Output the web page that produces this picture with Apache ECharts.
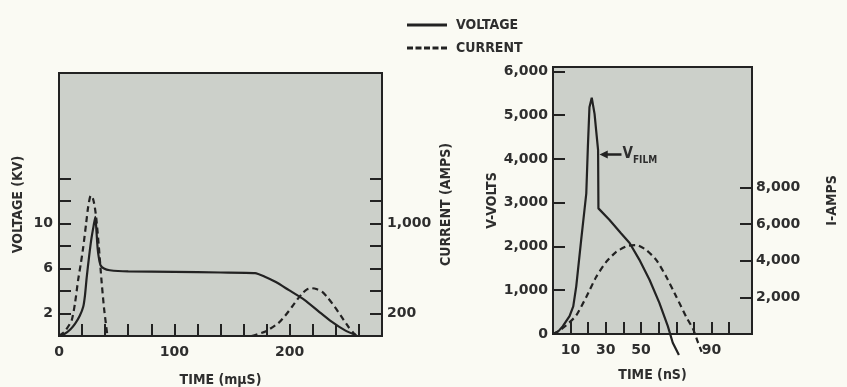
<!DOCTYPE html>
<html>
<head>
<meta charset="utf-8">
<style>
  html, body { margin: 0; padding: 0; background: #fafaf3; }
  #container { width: 847px; height: 387px; }
</style>
<script src="https://cdn.jsdelivr.net/npm/echarts@6/dist/echarts.min.js"></script>
</head>
<body>
<div id="container"></div>
<script>
// left panel: time in mμS, voltage in kV, current in amps
var leftVoltTime = [0, 5, 10, 14, 18, 21, 22.5, 24, 26, 28, 30, 31.5, 32.5, 33.5, 34.5, 36, 39, 44, 60, 100, 140, 170, 178, 188, 199, 213, 225, 236, 248, 257];
var leftVoltKV   = [0, 0.2, 0.6, 1.1, 1.8, 2.6, 3.6, 5.2, 7.0, 8.6, 9.8, 10.6, 9.3, 7.8, 7.0, 6.3, 6.0, 5.85, 5.75, 5.7, 5.65, 5.6, 5.3, 4.8, 4.1, 3.2, 2.2, 1.3, 0.5, 0.1];
var leftCurTime  = [0, 5, 11, 14, 16.6, 19, 21, 23.5, 25.3, 27.5, 29.5, 31, 32.5, 34.5, 36.8, 39, 41, 42, 100, 167, 179, 190, 196, 202, 207, 211, 215, 219, 223, 228, 233, 239, 245, 251, 255, 258];
var leftCurAmps  = [0, 40, 140, 300, 500, 650, 790, 1000, 1150, 1250, 1220, 1150, 1030, 800, 500, 250, 80, 0, null, 0, 40, 113, 180, 260, 330, 380, 415, 425, 418, 394, 340, 260, 170, 80, 30, 0];

// right panel: time in nS, voltage in volts, current in amps
var rightVoltTime  = [0, 3, 5.6, 9.4, 11.5, 13.2, 16, 18.9, 19.8, 20.7, 22, 23.6, 24.5, 25.6, 25.8, 32, 38.6, 43.5, 49, 54.8, 60.4, 65.2, 68, 71.5];
var rightVoltVolts = [0, 60, 180, 410, 630, 1090, 2150, 3210, 4270, 5180, 5400, 5030, 4650, 4200, 2870, 2610, 2300, 2080, 1700, 1240, 710, 180, -200, -480];
var rightCurTime   = [0, 3.5, 7.4, 13.2, 18.9, 24.5, 30.2, 35.9, 42.5, 47.3, 53, 58.7, 64.4, 70.1, 75.7, 79.5, 82.3, 84.4];
var rightCurAmps   = [0, 180, 465, 1010, 2020, 3110, 3930, 4480, 4810, 4850, 4580, 4030, 3110, 2020, 920, 280, -450, -980];

// ticks and labels
var leftTimeTicks   = [20, 40, 60, 80, 100, 120, 140, 160, 180, 200, 220, 240, 260];
var leftTimeLabels  = [0, 100, 200];
var leftKVTicks     = [2, 4, 6, 8, 10, 12, 14];
var leftKVLabels    = [2, 6, 10];
var leftAmpTicks    = [200, 400, 600, 800, 1000, 1200, 1400];
var leftAmpLabels   = [200, 1000];
var rightTimeTicks  = [10, 20, 30, 40, 50, 60, 70, 80, 90, 100];
var rightTimeLabels = [10, 30, 50, 90];
var rightVoltTicks  = [1000, 2000, 3000, 4000, 5000, 6000];
var rightVoltLabels = [0, 1000, 2000, 3000, 4000, 5000, 6000];
var rightAmpTicks   = [2000, 4000, 6000, 8000];
var rightAmpLabels  = [2000, 4000, 6000, 8000];

function pairs(xs, ys) {
    return xs.map(function (x, i) { return ys[i] === null ? [x, '-'] : [x, ys[i]]; });
}

var ink = '#222';
var textColor = '#2e2e2e';
var numFont = "'DejaVu Sans', sans-serif";
var nameFont = "'DejaVu Sans Condensed', 'DejaVu Sans', sans-serif";
var numStyle = { color: textColor, fontFamily: numFont, fontWeight: 'bold', fontSize: 14 };
var nameStyle = { color: textColor, fontFamily: nameFont, fontWeight: 'bold', fontSize: 14 };
function fmt(v) { return Number(v).toLocaleString('en-US'); }

function tick(vals) {
    return { show: true, inside: true, length: 12, customValues: vals, lineStyle: { color: ink, width: 2 } };
}
function label(vals, margin) {
    return Object.assign({ customValues: vals, margin: margin, formatter: fmt }, numStyle);
}

// legend keys drawn as plain strokes, no marker
var solidKey = 'path://M0,0H40V3H0Z';
var dashedKey = 'path://M0,0H6V3H0Z M8.5,0H14.5V3H8.5Z M17,0H23V3H17Z M25.5,0H31.5V3H25.5Z M34,0H40V3H34Z';

var dom = document.getElementById("container");
var myChart = echarts.init(dom);
var option = {
    backgroundColor: '#fafaf3',
    animation: false,
    legend: {
        orient: 'vertical',
        left: 402,
        top: 13,
        itemWidth: 40,
        itemHeight: 14,
        itemGap: 9,
        textStyle: { color: textColor, fontFamily: nameFont, fontWeight: 'bold', fontSize: 14, padding: [0, 0, 0, 4] },
        data: [
            { name: 'VOLTAGE', icon: solidKey, itemStyle: { color: ink } },
            { name: 'CURRENT', icon: dashedKey, itemStyle: { color: ink } }
        ]
    },
    grid: [
        { left: 59, top: 73, width: 323, height: 263, show: true, backgroundColor: '#ccd0ca', borderColor: ink, borderWidth: 2, outerBoundsMode: 'none' },
        { left: 553, top: 67, width: 199, height: 267, show: true, backgroundColor: '#ccd0ca', borderColor: ink, borderWidth: 2, outerBoundsMode: 'none' }
    ],
    xAxis: [
        {
            gridIndex: 0, type: 'value', min: 0, max: 280,
            name: 'TIME (mμS)', nameLocation: 'middle', nameGap: 37, nameTextStyle: nameStyle,
            axisLine: { show: false }, splitLine: { show: false },
            axisTick: tick(leftTimeTicks), axisLabel: label(leftTimeLabels, 9)
        },
        {
            gridIndex: 1, type: 'value', min: 0, max: 113,
            name: 'TIME (nS)', nameLocation: 'middle', nameGap: 34, nameTextStyle: nameStyle,
            axisLine: { show: false }, splitLine: { show: false },
            axisTick: tick(rightTimeTicks), axisLabel: label(rightTimeLabels, 9)
        }
    ],
    yAxis: [
        {
            gridIndex: 0, type: 'value', position: 'left', min: 0, max: 23.4,
            name: 'VOLTAGE (KV)', nameLocation: 'middle', nameGap: 34, nameRotate: 90, nameTextStyle: nameStyle,
            axisLine: { show: false }, splitLine: { show: false },
            axisTick: tick(leftKVTicks), axisLabel: label(leftKVLabels, 6)
        },
        {
            gridIndex: 0, type: 'value', position: 'right', min: 0, max: 2340,
            name: 'CURRENT (AMPS)', nameLocation: 'middle', nameGap: 57, nameRotate: 90, nameTextStyle: nameStyle,
            axisLine: { show: false }, splitLine: { show: false },
            axisTick: tick(leftAmpTicks), axisLabel: label(leftAmpLabels, 5)
        },
        {
            gridIndex: 1, type: 'value', position: 'left', min: 0, max: 6100,
            name: 'V-VOLTS', nameLocation: 'middle', nameGap: 53, nameRotate: 90, nameTextStyle: nameStyle,
            axisLine: { show: false }, splitLine: { show: false },
            axisTick: tick(rightVoltTicks), axisLabel: label(rightVoltLabels, 5)
        },
        {
            gridIndex: 1, type: 'value', position: 'right', min: 0, max: 14560,
            name: 'I-AMPS', nameLocation: 'middle', nameGap: 73, nameRotate: 90, nameTextStyle: nameStyle,
            axisLine: { show: false }, splitLine: { show: false },
            axisTick: tick(rightAmpTicks), axisLabel: label(rightAmpLabels, 4)
        }
    ],
    series: [
        {
            name: 'VOLTAGE', type: 'line', xAxisIndex: 0, yAxisIndex: 0,
            symbol: 'none', smooth: 0.2, lineStyle: { color: ink, width: 2.2 }, itemStyle: { color: ink },
            data: pairs(leftVoltTime, leftVoltKV)
        },
        {
            name: 'CURRENT', type: 'line', xAxisIndex: 0, yAxisIndex: 1,
            symbol: 'none', smooth: 0.2, lineStyle: { color: ink, width: 2.2, type: [6, 4] }, itemStyle: { color: ink },
            data: pairs(leftCurTime, leftCurAmps)
        },
        {
            name: 'VOLTAGE', type: 'line', xAxisIndex: 1, yAxisIndex: 2, clip: false,
            symbol: 'none', smooth: false, lineStyle: { color: ink, width: 2.2 }, itemStyle: { color: ink },
            data: pairs(rightVoltTime, rightVoltVolts),
            markPoint: {
                silent: true,
                symbol: 'path://M0,5L9,0L9,3.5L24,3.5L24,6.5L9,6.5L9,10Z',
                symbolSize: [22, 8],
                symbolOffset: [11, 0],
                itemStyle: { color: ink },
                label: {
                    show: true, position: 'right', distance: 1,
                    formatter: '{v|V}{s|FILM}',
                    rich: {
                        v: { color: textColor, fontFamily: nameFont, fontWeight: 'bold', fontSize: 15 },
                        s: { color: textColor, fontFamily: nameFont, fontWeight: 'bold', fontSize: 10, padding: [12, 0, 0, 0] }
                    }
                },
                data: [{ coord: [26.4, 4100] }]
            }
        },
        {
            name: 'CURRENT', type: 'line', xAxisIndex: 1, yAxisIndex: 3, clip: false,
            symbol: 'none', smooth: 0.2, lineStyle: { color: ink, width: 2.2, type: [6, 4] }, itemStyle: { color: ink },
            data: pairs(rightCurTime, rightCurAmps)
        }
    ]
};
if (option && typeof option === "object") {
    myChart.setOption(option, true);
}
</script>
</body>
</html>
